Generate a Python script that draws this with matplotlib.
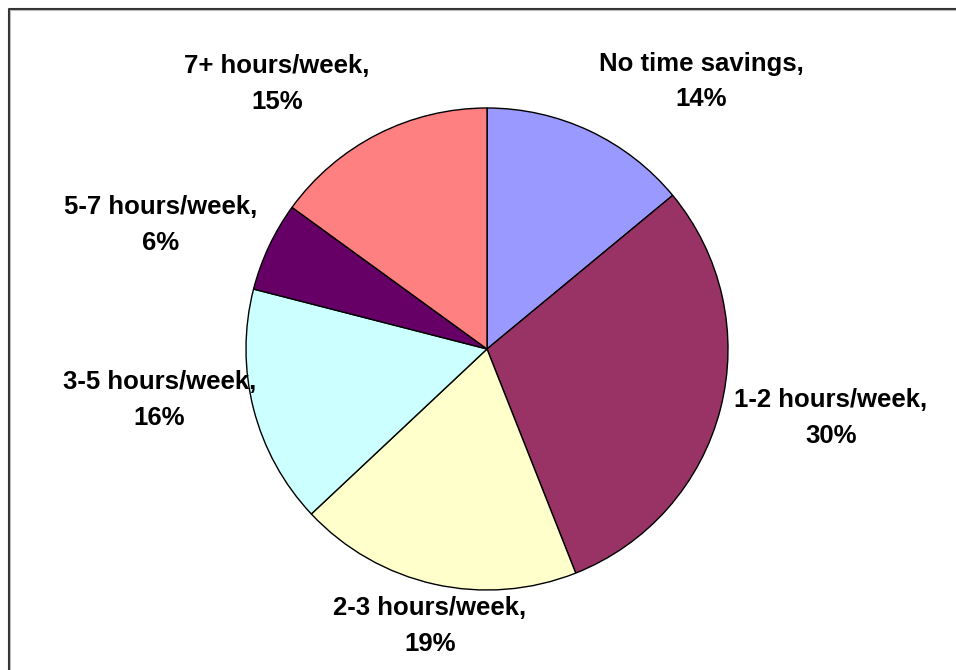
import matplotlib.pyplot as plt
from matplotlib.lines import Line2D

categories = ['No time savings', '1-2 hours/week', '2-3 hours/week',
              '3-5 hours/week', '5-7 hours/week', '7+ hours/week']
shares = [14, 30, 19, 16, 6, 15]
colors = ['#9999FF', '#993366', '#FFFFCC', '#CCFFFF', '#660066', '#FF8080']

# label anchor points, in units of the pie radius
label_pos = [(0.888, 1.110), (1.427, -0.286), (-0.237, -1.150),
             (-1.360, -0.212), (-1.353, 0.515), (-0.871, 1.100)]

W, H = 956, 670
cx, cy, rad = 487, 349, 241

fig = plt.figure(figsize=(W / 100, H / 100), dpi=100)
ax = fig.add_axes([0, 0, 1, 1])

ax.pie(shares, colors=colors, startangle=90, counterclock=False,
       wedgeprops=dict(edgecolor='black', linewidth=1.0))

for name, val, (lx, ly) in zip(categories, shares, label_pos):
    ax.text(lx, ly, f'{name},\n{val}%', ha='center', va='center',
            fontsize=18.5, fontweight='bold', family='Liberation Sans',
            linespacing=1.6)

ax.set_aspect('auto')
ax.set_xlim(-cx / rad, (W - cx) / rad)
ax.set_ylim(-(H - cy) / rad, cy / rad)
ax.axis('off')

# chart-area frame (top and left edges visible)
x0, y0 = 8.5 / W, 1 - 8.5 / H
fig.add_artist(Line2D([x0, x0, 1.0], [0.0, y0, y0], color='#333333',
                      linewidth=1.5, transform=fig.transFigure))
x1, y1 = 10 / W, 1 - 10 / H
fig.add_artist(Line2D([x1, x1, 1.0], [0.0, y1, y1], color='#BBBBBB',
                      linewidth=0.8, transform=fig.transFigure))

fig.savefig('out.png', dpi=100, facecolor='white')
